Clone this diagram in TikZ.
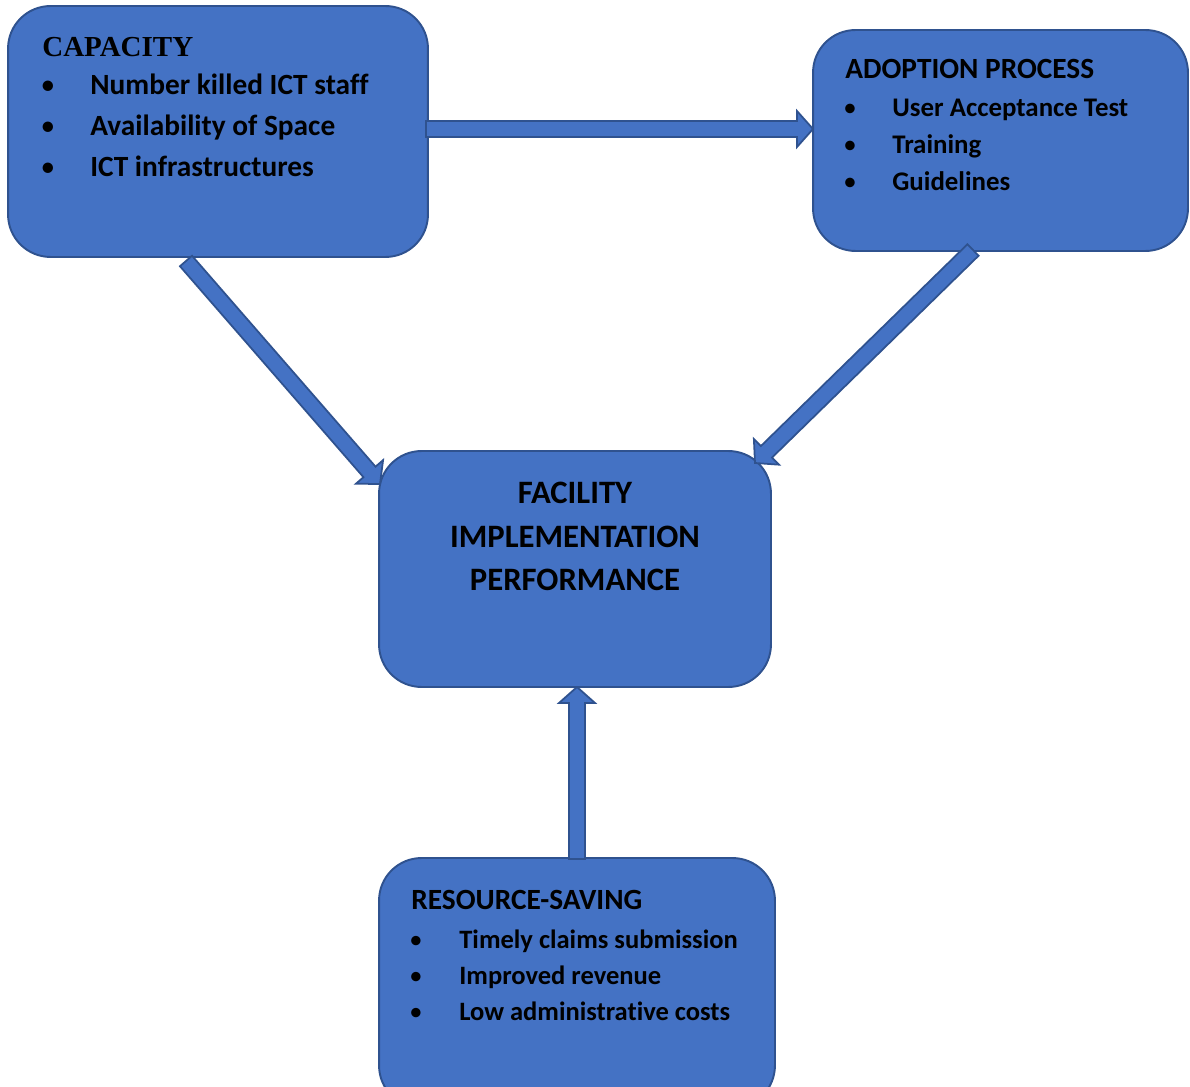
\documentclass[tikz,border=0pt]{standalone}
\usepackage{fontspec}
\setmainfont{Carlito}[Ligatures=NoCommon]
\newfontfamily\timesfont{Liberation Serif}
\usetikzlibrary{calc}
\definecolor{boxblue}{HTML}{4472C4}
\definecolor{edgeblue}{HTML}{2F528F}

% block arrow from #1 to #2 (tip at #2)
\newcommand{\blockarrow}[2]{%
  \coordinate (hb) at ($(#2)!0.32cm!(#1)$);
  \draw[barrow] ($(#1)!0.16cm!90:(#2)$) -- ($(hb)!0.16cm!90:(#2)$)
    -- ($(hb)!0.36cm!90:(#2)$) -- (#2) -- ($(hb)!0.36cm!-90:(#2)$)
    -- ($(hb)!0.16cm!-90:(#2)$) -- ($(#1)!0.16cm!-90:(#2)$) -- cycle;}

\begin{document}
\begin{tikzpicture}[x=0.02cm, y=-0.02cm,
  box/.style={draw=edgeblue, fill=boxblue, line width=1.1pt, rounded corners=0.85cm, inner sep=0pt},
  barrow/.style={draw=edgeblue, fill=boxblue, line width=1pt, line join=miter},
  head/.style={anchor=base west, inner sep=0pt, font=\bfseries\fontsize{16.7}{19}\selectfont},
  item/.style={anchor=base west, inner sep=0pt, font=\bfseries\fontsize{16.7}{19}\selectfont},
  bul/.style={anchor=base, inner sep=0pt, font=\fontsize{16.7}{19}\selectfont}]
\useasboundingbox (0,0) rectangle (1190,1087);
\clip (0,0) rectangle (1190,1087);

% boxes
\node[box, minimum width=8.4cm, minimum height=5.02cm] (cap) at (218,131.5) {};
\node[box, minimum width=7.5cm, minimum height=4.42cm] (adopt) at (1000.5,140.5) {};
\node[box, minimum width=7.84cm, minimum height=4.72cm] (fac) at (575,569) {};
\node[box, minimum width=7.92cm, minimum height=5.0cm] (res) at (577,983) {};

% arrow ends
\coordinate (capR) at (426,129);
\coordinate (adoptL) at (813,129);
\coordinate (capB) at (186,261);
\coordinate (facL) at (380,484);
\coordinate (adoptB) at (973,250);
\coordinate (facR) at (755,463);
\coordinate (resT) at (577,859);
\coordinate (facB) at (577,687);

\blockarrow{capR}{adoptL}
\blockarrow{capB}{facL}
\blockarrow{adoptB}{facR}
\blockarrow{resT}{facB}

% capacity
\node[head, font=\timesfont\bfseries\fontsize{16.5}{19}\selectfont] (capt) at (42,57) {CAPACITY};
\foreach \txt [count=\i] in {Number killed ICT staff, Availability of Space, ICT infrastructures} {
  \node[bul] (capb\i) at (48,54+41*\i) {•};
  \node[item] (capi\i) at (90,54+41*\i) {\txt};
}

% adoption process
\node[head] (adoptt) at (845,79) {ADOPTION PROCESS};
\foreach \txt [count=\i] in {User Acceptance Test, Training, Guidelines} {
  \node[bul, font=\fontsize{15.3}{17}\selectfont] (adoptb\i) at (850,80+37*\i) {•};
  \node[item, font=\bfseries\fontsize{15.3}{17}\selectfont] (adopti\i) at (892,80+37*\i) {\txt};
}

% facility
\foreach \txt [count=\i] in {FACILITY, IMPLEMENTATION, PERFORMANCE}
  \node[anchor=base, inner sep=0pt, font=\bfseries\fontsize{18.6}{21}\selectfont] (fact\i) at (575,461+43*\i) {\txt};

% resource-saving
\node[head] (rest) at (411,909) {RESOURCE-SAVING};
\foreach \txt [count=\i] in {Timely claims submission, Improved revenue, Low administrative costs} {
  \node[bul, font=\fontsize{15.1}{18}\selectfont] (resb\i) at (416,912+36*\i) {•};
  \node[item, font=\bfseries\fontsize{15.1}{18}\selectfont] (resi\i) at (459,912+36*\i) {\txt};
}

\end{tikzpicture}
\end{document}
